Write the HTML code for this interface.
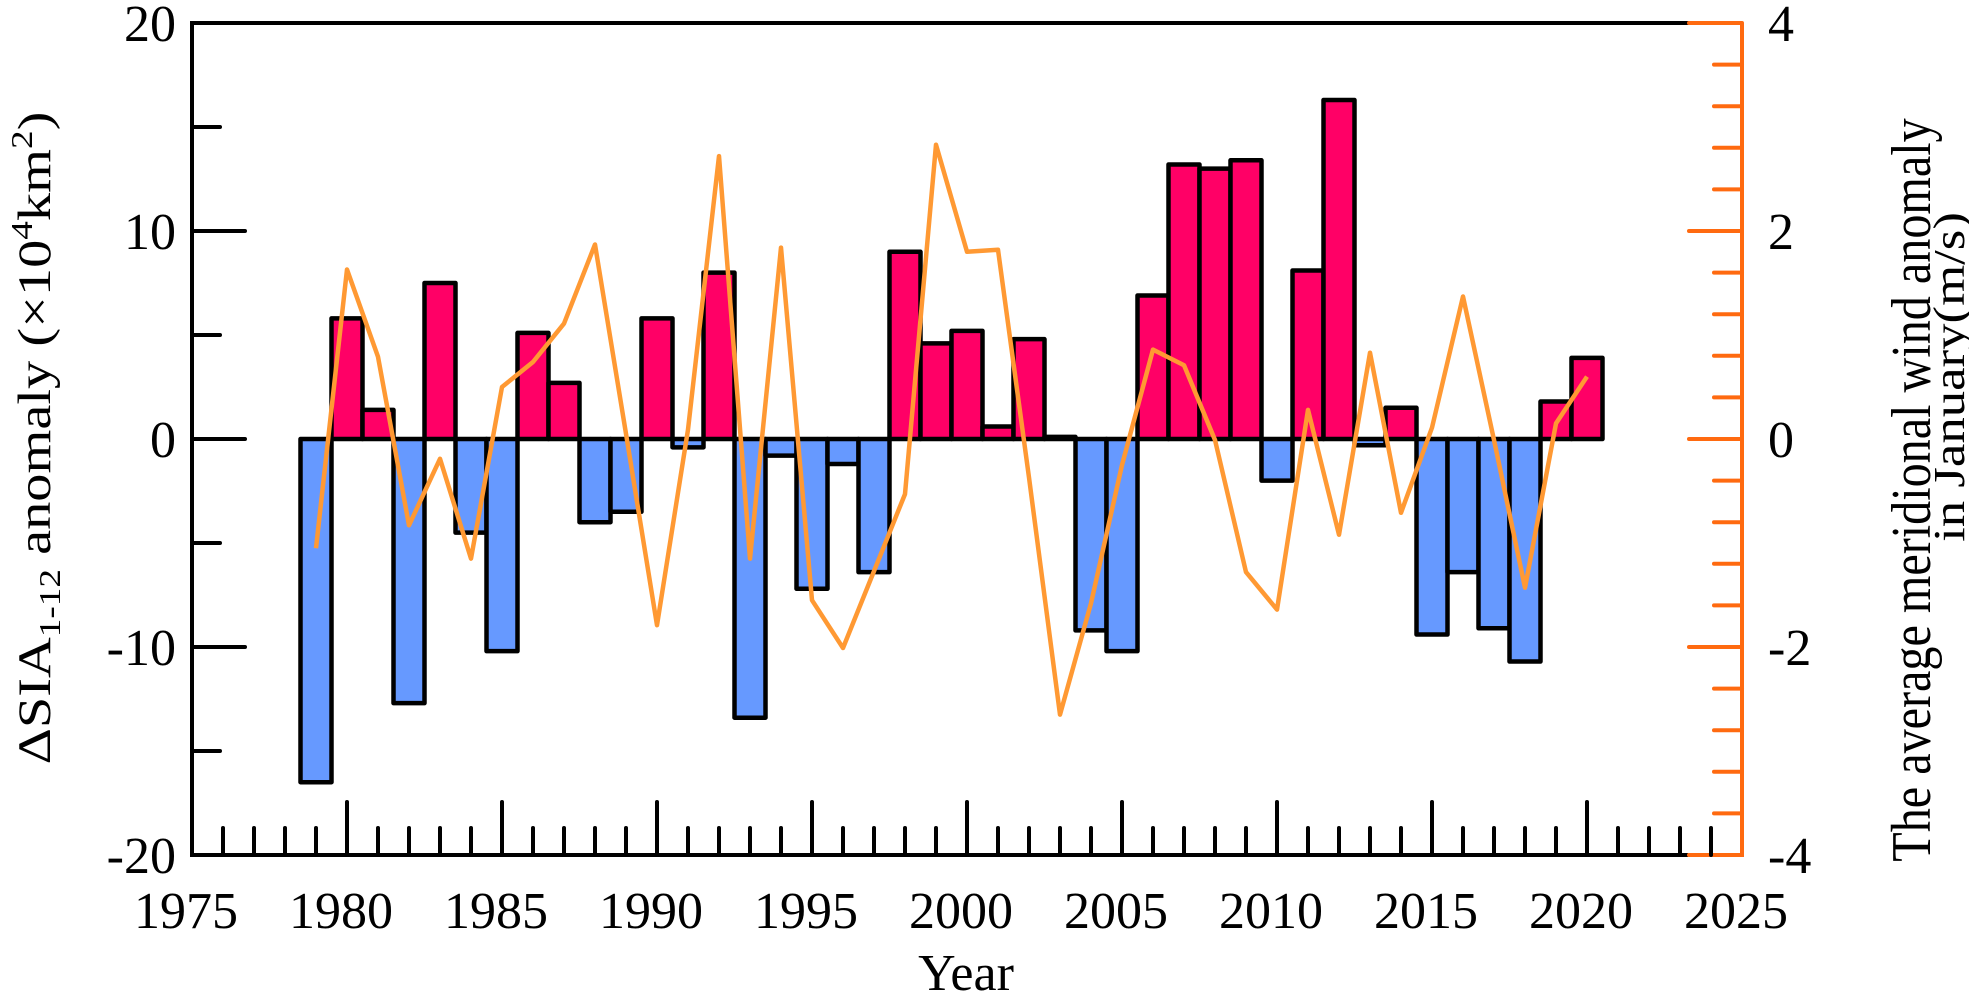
<!DOCTYPE html>
<html><head><meta charset="utf-8"><style>
html,body{margin:0;padding:0;background:#fff;}
svg{display:block;font-family:"Liberation Serif",serif;}
text{font-family:"Liberation Serif",serif;}
</style></head><body>
<svg id="chart" width="1969" height="998" viewBox="0 0 1969 998" xmlns="http://www.w3.org/2000/svg">
<g id="bars"></g>
<g id="line"></g>
<g id="axes"></g>
<text x="966" y="990" text-anchor="middle" font-size="52">Year</text>
<g transform="translate(50,438) rotate(-90) scale(1.2,1)">
<text x="0" y="0" text-anchor="middle" font-size="47">ΔSIA<tspan font-size="31" dy="10">1-12</tspan><tspan dy="-10"> anomaly (×10</tspan><tspan font-size="31" dy="-18">4</tspan><tspan dy="18">km</tspan><tspan font-size="31" dy="-18">2</tspan><tspan dy="18">)</tspan></text>
</g>
<g transform="translate(1930,490) rotate(-90) scale(0.86,1)">
<text x="0" y="0" text-anchor="middle" font-size="56">The average meridional wind anomaly</text>
</g>
<g transform="translate(1964,377) rotate(-90) scale(1.2,1)">
<text x="0" y="0" text-anchor="middle" font-size="44">in January(m/s)</text>
</g>
</svg>
<script>
const years = [1979,1980,1981,1982,1983,1984,1985,1986,1987,1988,1989,1990,1991,1992,1993,1994,1995,1996,1997,1998,1999,2000,2001,2002,2003,2004,2005,2006,2007,2008,2009,2010,2011,2012,2013,2014,2015,2016,2017,2018,2019,2020];
const siaAnomaly = [-16.5,5.8,1.4,-12.7,7.5,-4.5,-10.2,5.1,2.7,-4.0,-3.5,5.8,-0.4,8.0,-13.4,-0.8,-7.2,-1.2,-6.4,9.0,4.6,5.2,0.6,4.8,0.1,-9.2,-10.2,6.9,13.2,13.0,13.4,-2.0,8.1,16.3,-0.3,1.5,-9.4,-6.4,-9.1,-10.7,1.8,3.9];
const windAnomaly = [-1.05,1.63,0.79,-0.83,-0.19,-1.15,0.5,0.74,1.11,1.87,0.05,-1.79,0.09,2.72,-1.15,1.84,-1.55,-2.01,-1.27,-0.53,2.83,1.8,1.82,-0.37,-2.65,-1.58,-0.25,0.86,0.71,-0.01,-1.28,-1.64,0.28,-0.92,0.83,-0.71,0.11,1.37,-0.01,-1.43,0.15,0.6];
const leftTicks = [-20,-10,0,10,20];
const rightTicks = [-4,-2,0,2,4];
const xTicks = [1975,1980,1985,1990,1995,2000,2005,2010,2015,2020,2025];

const NS="http://www.w3.org/2000/svg";
const X0=192, X1=1742, Y0=23, Y1=855;
const xs = y => X0 + (y-1975)/50*(X1-X0);
const yl = v => 439 - v*(Y1-Y0)/40;
const yr = v => 439 - v*(Y1-Y0)/8;
function mk(tag, attrs, parent){const e=document.createElementNS(NS,tag);for(const k in attrs)e.setAttribute(k,attrs[k]);parent.appendChild(e);return e;}
const gb=document.getElementById('bars'), gl=document.getElementById('line'), ga=document.getElementById('axes');
const bw=(X1-X0)/50;
years.forEach((yr_,i)=>{
  const v=siaAnomaly[i];
  const top=Math.min(yl(v),yl(0)), h=Math.abs(yl(v)-yl(0));
  const r=mk('rect',{x:xs(yr_)-bw/2,y:top,width:bw,height:Math.max(h,1),fill:v>=0?'#ff0066':'#6699ff',stroke:'#000','stroke-width':4.5,'stroke-linejoin':'round'},gb);
  
  
});
const pts=years.map((y,i)=>xs(y).toFixed(1)+','+yr(windAnomaly[i]).toFixed(1)).join(' ');
const pl=mk('polyline',{points:pts,fill:'none',stroke:'#ff9933','stroke-width':4.5,'stroke-linejoin':'round'},gl);



mk('line',{x1:X0,y1:Y0,x2:X1,y2:Y0,stroke:'#000','stroke-width':4},ga);
mk('line',{x1:X0,y1:Y0-2,x2:X0,y2:Y1+2,stroke:'#000','stroke-width':4},ga);
mk('line',{x1:X0,y1:Y1,x2:1688,y2:Y1,stroke:'#000','stroke-width':4},ga);
mk('line',{x1:1688,y1:Y1,x2:X1,y2:Y1,stroke:'#ff6a10','stroke-width':4},ga);
mk('line',{x1:X1,y1:Y0,x2:X1,y2:Y1+2,stroke:'#ff6a10','stroke-width':4},ga);
for(let v=-20;v<=20;v+=5){const major=v%10===0;mk('line',{x1:X0,y1:yl(v),x2:X0+(major?53:28),y2:yl(v),stroke:'#000','stroke-width':4,'stroke-linecap':'round'},ga);}
leftTicks.forEach(v=>{const t=mk('text',{x:176,y:yl(v)+18,'text-anchor':'end','font-size':52},ga);t.textContent=v;
  
  });
for(let k=-10;k<=10;k++){const v=k*0.4;const major=Math.abs(k)%5===0;mk('line',{x1:X1,y1:yr(v),x2:X1-(major?53:28),y2:yr(v),stroke:'#ff6a10','stroke-width':4,'stroke-linecap':'round'},ga);}
rightTicks.forEach(v=>{const t=mk('text',{x:1768,y:yr(v)+18,'text-anchor':'start','font-size':52},ga);t.textContent=v;
  
  });
for(let y=1976;y<=2024;y++){const major=y%5===0;mk('line',{x1:xs(y),y1:Y1,x2:xs(y),y2:Y1-(major?53:27),stroke:'#000','stroke-width':4,'stroke-linecap':'round'},ga);}
xTicks.forEach(y=>{const t=mk('text',{x:xs(y)-6,y:928,'text-anchor':'middle','font-size':52},ga);t.textContent=y;
  
  });
</script>
</body></html>
